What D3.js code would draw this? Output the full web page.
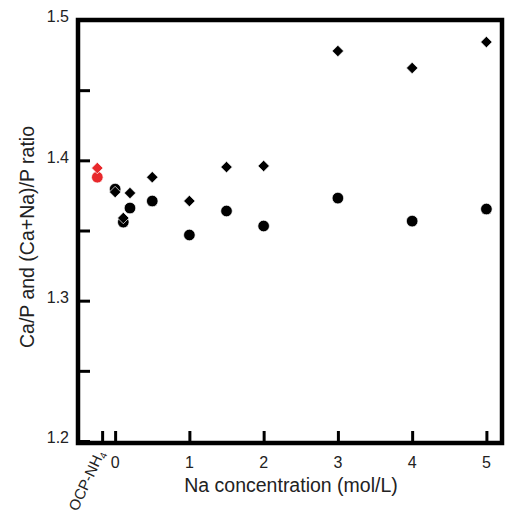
<!DOCTYPE html>
<html><head><meta charset="utf-8">
<script src="https://cdn.jsdelivr.net/npm/d3@7"></script>
<style>body{margin:0;background:#fff}svg{display:block}text{font-family:"Liberation Sans",Arial,sans-serif}</style>
</head><body>
<svg id="c" width="505" height="517"></svg>
<script>
// Data
const concX = [0, 0.11, 0.2, 0.5, 1, 1.5, 2, 3, 4, 5];
const caPCircle = [1.3795, 1.356, 1.366, 1.371, 1.3468, 1.3639, 1.3532, 1.3731, 1.3567, 1.3653];
const caNaPDiamond = [1.3774, 1.3589, 1.3767, 1.388, 1.371, 1.3952, 1.396, 1.4779, 1.4658, 1.4843];
const ocpX = -0.24;
const ocpCircle = 1.388;
const ocpDiamond = 1.3945;
const xTickValues = [-0.175, 0, 1, 2, 3, 4, 5];
const xTickLabels = ["OCP-NH4", "0", "1", "2", "3", "4", "5"];
const yTickValues = [1.2, 1.25, 1.3, 1.35, 1.4, 1.45, 1.5];
const yTickLabels = ["1.2", "", "1.3", "", "1.4", "", "1.5"];

const svg = d3.select("#c");
const L = 78, R = 502, T = 20, B = 441;
const x = d3.scaleLinear().domain([-0.5, 5.21]).range([L, R]);
const y = d3.scaleLinear().domain([1.2, 1.5]).range([B, T]);

// frame
svg.append("rect").attr("x", L).attr("y", T).attr("width", R - L).attr("height", B + 2 - T)
  .attr("fill", "none").attr("stroke", "#000").attr("stroke-width", 4.5);

// y axis (ticks inward)
const yAx = svg.append("g").attr("transform", `translate(${L},0)`)
  .call(d3.axisRight(y).tickValues(yTickValues).tickSize(12).tickFormat(""));
yAx.select(".domain").remove();
yAx.selectAll(".tick line").attr("stroke", "#000").attr("stroke-width", 3);
svg.selectAll(".ylab").data(yTickValues.map((v, i) => [v, yTickLabels[i]]).filter(d => d[1])).enter()
  .append("text").attr("x", L - 9).attr("y", d => y(d[0])).attr("dy", "0.15em")
  .attr("text-anchor", "end").attr("font-size", 16).attr("fill", "#222").text(d => d[1]);

// x axis (ticks inward)
const xAx = svg.append("g").attr("transform", `translate(0,${B + 2})`)
  .call(d3.axisTop(x).tickValues(xTickValues).tickSize(12).tickFormat(""));
xAx.select(".domain").remove();
xAx.selectAll(".tick line").attr("stroke", "#000").attr("stroke-width", 3);
xTickValues.forEach((v, i) => {
  if (i === 0) {
    const t = svg.append("text").attr("transform", `translate(${x(v) - 2},${B + 10}) rotate(-65)`)
      .attr("text-anchor", "end").attr("font-size", 15).attr("fill", "#222").attr("dy", "0.35em");
    t.append("tspan").text("OCP-NH");
    t.append("tspan").attr("font-size", 10).attr("dy", "0.3em").text("4");
  } else {
    svg.append("text").attr("x", x(v)).attr("y", B + 27).attr("text-anchor", "middle")
      .attr("font-size", 16).attr("fill", "#222").text(xTickLabels[i]);
  }
});

// titles
svg.append("text").attr("x", 291).attr("y", 492).attr("text-anchor", "middle")
  .attr("font-size", 19.5).attr("fill", "#222").text("Na concentration (mol/L)");
svg.append("text").attr("transform", `translate(34,237) rotate(-90)`).attr("text-anchor", "middle")
  .attr("font-size", 19.5).attr("fill", "#222").text("Ca/P and (Ca+Na)/P ratio");

// markers
const diamond = d3.symbol().type(d3.symbolDiamond2).size(84);
const circPts = concX.map((v, i) => ({ x: v, y: caPCircle[i], c: "#000" }));
circPts.unshift({ x: ocpX, y: ocpCircle, c: "#e8282b" });
const diaPts = concX.map((v, i) => ({ x: v, y: caNaPDiamond[i], c: "#000" }));
diaPts.unshift({ x: ocpX, y: ocpDiamond, c: "#e8282b" });

svg.selectAll(".circ").data(circPts).enter().append("circle")
  .attr("cx", d => x(d.x)).attr("cy", d => y(d.y)).attr("r", 5.8)
  .attr("fill", d => d.c).attr("stroke", "#fff").attr("stroke-width", 0.7);
svg.selectAll(".dia").data(diaPts).enter().append("path")
  .attr("d", diamond).attr("transform", d => `translate(${x(d.x)},${y(d.y)})`)
  .attr("fill", d => d.c).attr("stroke", "#fff").attr("stroke-width", 0.7);
</script>
</body></html>
